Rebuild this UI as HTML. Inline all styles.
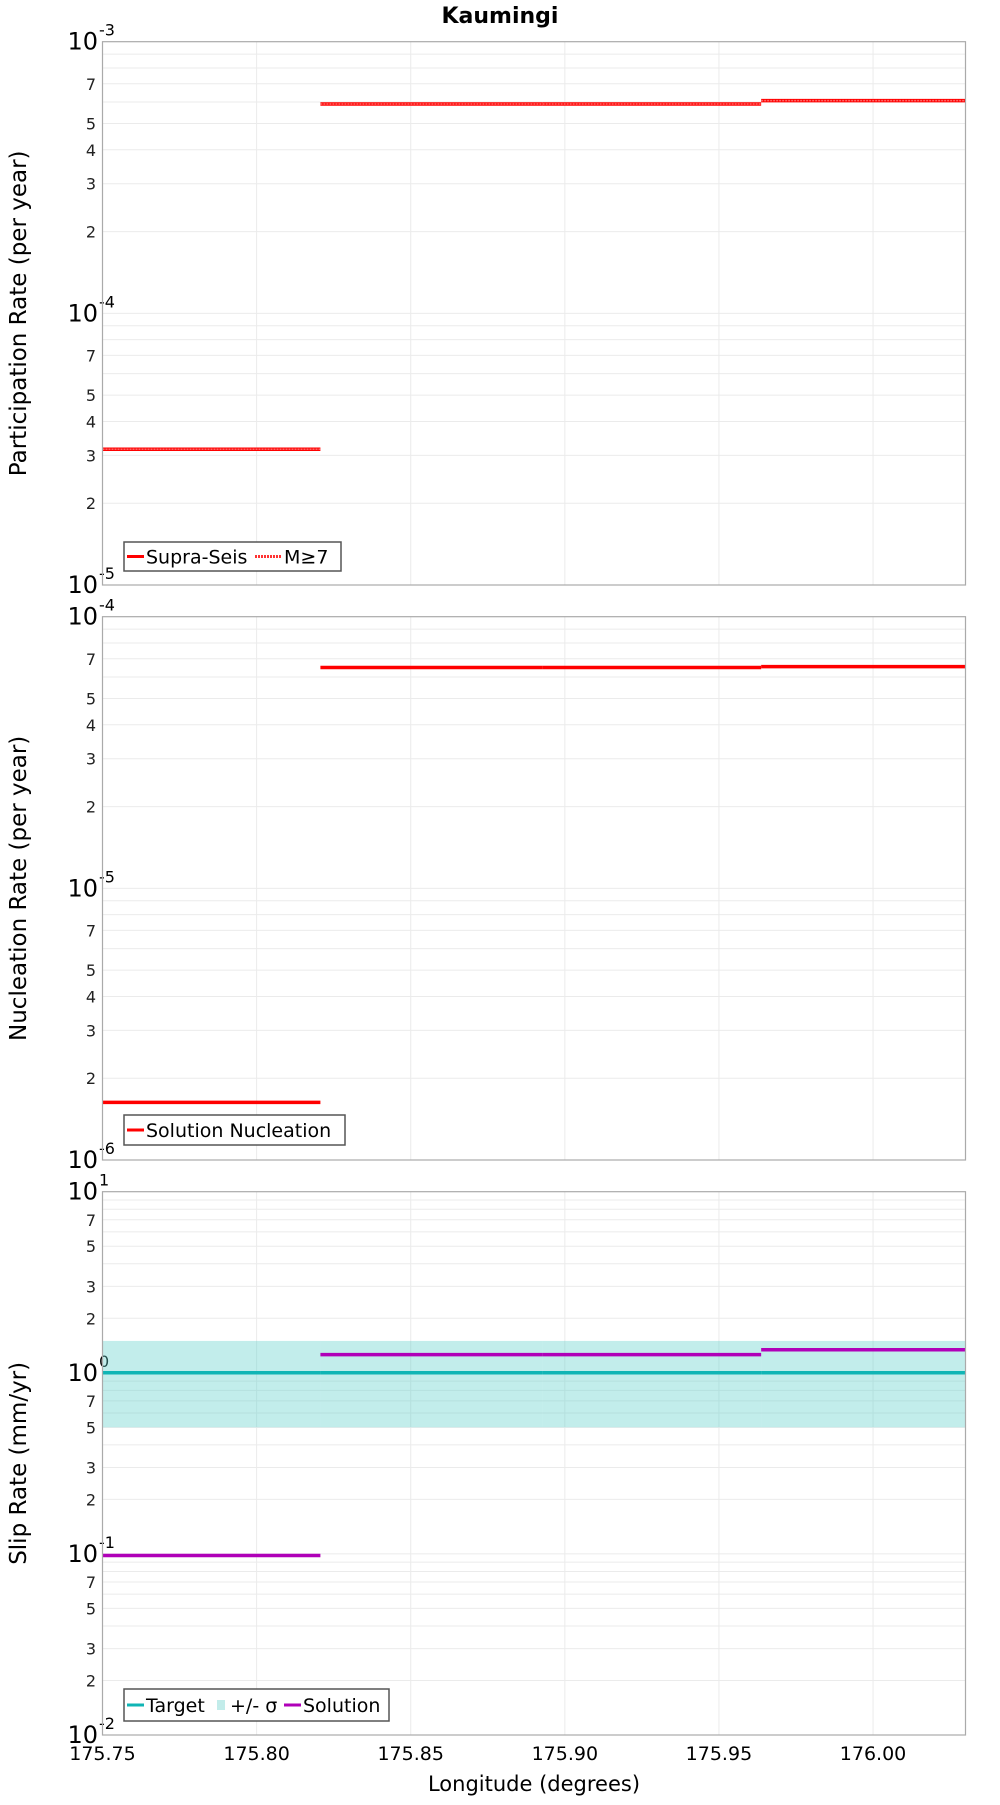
<!DOCTYPE html>
<html><head><meta charset="utf-8"><style>
body{margin:0;background:#fff;}
svg text{font-family:"DejaVu Sans","Liberation Sans",sans-serif;}
</style></head><body>
<svg id="chart" width="1000" height="1800" viewBox="0 0 1000 1800" xmlns="http://www.w3.org/2000/svg">
<text x="500" y="23" text-anchor="middle" font-size="22" font-weight="bold">Kaumingi</text>
<g id="layer"></g>
</svg>
<script>
const xTicks = [175.75, 175.80, 175.85, 175.90, 175.95, 176.00];
const xTickLabels = ["175.75","175.80","175.85","175.90","175.95","176.00"];
const segStarts = [175.75, 175.8207, 175.8928, 175.9637];
const segEnds = [175.8207, 175.8928, 175.9637, 176.03];
const partSupra = [3.16e-5, 5.9e-4, 5.9e-4, 6.07e-4];
const partM7 = [3.16e-5, 5.9e-4, 5.9e-4, 6.07e-4];
const nucSolution = [1.63e-6, 6.5e-5, 6.5e-5, 6.55e-5];
const slipSolution = [0.098, 1.26, 1.26, 1.34];
const slipTarget = [1.0, 1.0, 1.0, 1.0];
const slipLow = [0.5, 0.5, 0.5, 0.5];
const slipHigh = [1.5, 1.5, 1.5, 1.5];

const NS = "http://www.w3.org/2000/svg";
const layer = document.getElementById('layer');
const X0 = 102.5, X1 = 965.5, XMIN = 175.75, XMAX = 176.03;
function xs(v){ return X0 + (v - XMIN) / (XMAX - XMIN) * (X1 - X0); }
function mk(tag, attrs, parent){
  const e = document.createElementNS(NS, tag);
  for (const k in attrs) e.setAttribute(k, attrs[k]);
  (parent || layer).appendChild(e);
  return e;
}
const panels = [
  {top:41.7, bot:585, lo:-5, hi:-3, title:"Participation Rate (per year)", name:"participation", minorLabels:[2,3,4,5,7]},
  {top:616.7, bot:1160, lo:-6, hi:-4, title:"Nucleation Rate (per year)", name:"nucleation", minorLabels:[2,3,4,5,7]},
  {top:1191.7, bot:1735, lo:-2, hi:1, title:"Slip Rate (mm/yr)", name:"slip-rate", minorLabels:[2,3,5,7]}
];
panels.forEach(p => {
  p.ys = v => p.bot - (Math.log10(v) - p.lo) / (p.hi - p.lo) * (p.bot - p.top);
  const g = mk('g', {});
  
  
  xTicks.forEach(t => {
    const l = mk('line', {x1:xs(t), x2:xs(t), y1:p.top, y2:p.bot, stroke:'#ebebeb', 'stroke-width':1}, g);
    
    
  });
  for (let d = p.lo; d <= p.hi; d++) {
    const yd = p.ys(Math.pow(10, d));
    const lab = mk('text', {x:98, y:yd + 8, 'text-anchor':'end', 'font-size':24}, g);
    
    
    lab.textContent = '10';
    const sup = mk('text', {x:99, y:yd - 6, 'font-size':16}, g);
    
    
    sup.textContent = String(d);
    if (d === p.hi) break;
    for (let m = 2; m <= 9; m++) {
      const v = m * Math.pow(10, d), y = p.ys(v);
      const gl = mk('line', {x1:X0, x2:X1, y1:y, y2:y, stroke:'#ebebeb', 'stroke-width':1}, g);
      
      
      if (p.minorLabels.includes(m)) {
        const t = mk('text', {x:96, y:y + 6, 'text-anchor':'end', 'font-size':16, fill:'#222'}, g);
        
        
        t.textContent = String(m);
      }
    }
    const gl = mk('line', {x1:X0, x2:X1, y1:yd, y2:yd, stroke:'#ebebeb', 'stroke-width':1}, g);
    
    
  }
  const cy = (p.top + p.bot) / 2;
  const yt = mk('text', {x:0, y:0, transform:`translate(26,${cy}) rotate(-90)`, 'text-anchor':'middle', 'font-size':23}, g);
  
  
  yt.textContent = p.title;
  p.g = g;
});
function steps(p, arr, color, width, dash, name){
  arr.forEach((v, i) => {
    const y = p.ys(v);
    const a = {x1:xs(segStarts[i]), x2:xs(segEnds[i]), y1:y, y2:y, stroke:color, 'stroke-width':width};
    if (dash) a['stroke-dasharray'] = dash;
    const l = mk('line', a, p.g);
    
    
  });
}
const P1 = panels[0], P2 = panels[1], P3 = panels[2];
steps(P1, partSupra, '#ff0000', 3.5, null, 'supra-seis-step');
steps(P1, partM7, '#ff6666', 1.5, '2 1', 'm7-step');
steps(P2, nucSolution, '#ff0000', 3.5, null, 'solution-nucleation-step');
slipLow.forEach((v, i) => {
  const yl = P3.ys(v), yh = P3.ys(slipHigh[i]);
  const r = mk('rect', {x:xs(segStarts[i]), y:yh, width:xs(segEnds[i]) - xs(segStarts[i]), height:yl - yh, fill:'#5ecfcb', 'fill-opacity':0.38}, P3.g);
  
  
});
steps(P3, slipTarget, '#10b5b5', 3.5, null, 'target-step');
steps(P3, slipSolution, '#b000b8', 3.5, null, 'solution-step');
panels.forEach(p => {
  const f = mk('rect', {x:X0, y:p.top, width:X1 - X0, height:p.bot - p.top, fill:'none', stroke:'#aaa', 'stroke-width':1.2}, p.g);
  
  
});
xTicks.forEach((t, i) => {
  const l = mk('text', {x:xs(t), y:1760, 'text-anchor':'middle', 'font-size':19});
  
  
  l.textContent = xTickLabels[i];
});
const xt = mk('text', {x:534, y:1791, 'text-anchor':'middle', 'font-size':21});


xt.textContent = 'Longitude (degrees)';
function legend(p, x, y, w, h, items, name){
  const g = mk('g', {}, p.g);
  
  
  const r = mk('rect', {x:x, y:y, width:w, height:h, fill:'#fff', stroke:'#555', 'stroke-width':1.5}, g);
  
  
  items.forEach(it => {
    const cy = y + h / 2;
    let sw;
    if (it.type === 'rect') sw = mk('rect', {x:it.x, y:cy - 5, width:8, height:10, fill:'#c2ecea'}, g);
    else {
      const a = {x1:it.x, x2:it.x + (it.dash ? 26 : 17), y1:cy, y2:cy, stroke:it.color, 'stroke-width':3};
      if (it.dash) a['stroke-dasharray'] = '2 1';
      sw = mk('line', a, g);
    }
    
    
    const t = mk('text', {x:it.tx, y:cy + 7, 'font-size':19}, g);
    
    
    t.textContent = it.label;
  });
}
legend(P1, 124, 542, 217, 29, [
  {x:127, tx:146, color:'#ff0000', label:'Supra-Seis'},
  {x:255, tx:284, color:'#ff3333', dash:true, label:'M≥7'}
], 'participation-legend');
legend(P2, 124, 1115, 221, 30, [
  {x:127, tx:146, color:'#ff0000', label:'Solution Nucleation'}
], 'nucleation-legend');
legend(P3, 124, 1689, 265, 32, [
  {x:127, tx:146, color:'#10b5b5', label:'Target'},
  {x:217, type:'rect', tx:230, label:'+/- σ'},
  {x:284, tx:303, color:'#b000b8', label:'Solution'}
], 'slip-legend');
</script>
</body></html>
